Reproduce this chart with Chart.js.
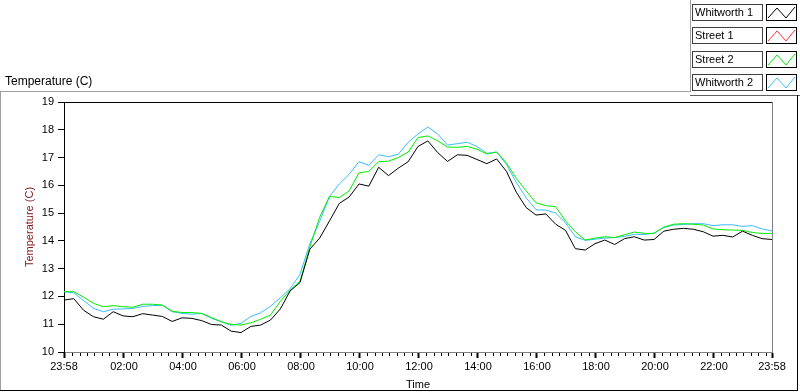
<!DOCTYPE html>
<html>
<head>
<meta charset="utf-8">
<script src="https://cdn.jsdelivr.net/npm/chart.js@4.4.0/dist/chart.umd.min.js"></script>
<style>
  html, body { margin: 0; padding: 0; background: #fff; }
  #wrap { position: relative; width: 800px; height: 392px; }
</style>
</head>
<body>
<div id="wrap"><canvas id="tempChart"></canvas></div>
<script>
// minutes after 23:58 (one sample every 20 minutes)
var minutes = [0, 20, 40, 60, 80, 100, 120, 140, 160, 180, 200, 220, 240, 260, 280, 300, 320, 340, 360, 380,
  400, 420, 440, 460, 480, 500, 520, 540, 560, 580, 600, 620, 640, 660, 680, 700, 720, 740, 760, 780,
  800, 820, 840, 860, 880, 900, 920, 940, 960, 980, 1000, 1020, 1040, 1060, 1080, 1100, 1120, 1140, 1160, 1180,
  1200, 1220, 1240, 1260, 1280, 1300, 1320, 1340, 1360, 1380, 1400, 1420, 1440];

var whitworth1 = [11.87, 11.92, 11.50, 11.27, 11.18, 11.45, 11.30, 11.27, 11.38, 11.33, 11.28, 11.10, 11.23, 11.21, 11.13, 10.99, 10.97, 10.75, 10.70, 10.92,
  10.97, 11.15, 11.55, 12.20, 12.50, 13.70, 14.10, 14.72, 15.35, 15.58, 16.05, 15.97, 16.65, 16.35, 16.62, 16.85, 17.40, 17.60, 17.18, 16.86,
  17.10, 17.08, 16.93, 16.78, 16.95, 16.50, 15.75, 15.20, 14.93, 14.97, 14.60, 14.38, 13.72, 13.67, 13.90, 14.03, 13.87, 14.08, 14.15, 14.03,
  14.05, 14.35, 14.42, 14.45, 14.42, 14.33, 14.17, 14.20, 14.14, 14.35, 14.20, 14.08, 14.05];

var street1 = [];

var street2 = [12.17, 12.17, 11.97, 11.75, 11.63, 11.67, 11.63, 11.61, 11.72, 11.72, 11.69, 11.47, 11.42, 11.42, 11.39, 11.24, 11.09, 10.99, 10.97, 11.05,
  11.18, 11.33, 11.82, 12.23, 12.55, 13.78, 14.85, 15.60, 15.56, 15.80, 16.45, 16.50, 16.85, 16.87, 17.00, 17.20, 17.72, 17.78, 17.60, 17.38,
  17.37, 17.40, 17.30, 17.13, 17.20, 16.80, 16.25, 15.80, 15.37, 15.27, 15.23, 14.72, 14.33, 14.03, 14.10, 14.15, 14.12, 14.22, 14.32, 14.27,
  14.27, 14.50, 14.60, 14.62, 14.60, 14.57, 14.43, 14.40, 14.39, 14.38, 14.30, 14.27, 14.27];

var whitworth2 = [12.17, 12.13, 11.85, 11.57, 11.45, 11.54, 11.55, 11.57, 11.64, 11.67, 11.68, 11.45, 11.39, 11.36, 11.39, 11.21, 11.09, 10.96, 11.03, 11.28,
  11.41, 11.65, 11.95, 12.28, 12.80, 13.90, 14.70, 15.60, 16.05, 16.40, 16.85, 16.72, 17.10, 17.03, 17.12, 17.55, 17.85, 18.10, 17.85, 17.45,
  17.50, 17.55, 17.40, 17.15, 17.20, 16.75, 16.10, 15.55, 15.12, 15.11, 15.00, 14.65, 14.15, 14.02, 14.06, 14.10, 14.12, 14.16, 14.24, 14.23,
  14.28, 14.48, 14.57, 14.59, 14.62, 14.62, 14.55, 14.58, 14.58, 14.52, 14.55, 14.43, 14.36];

var seriesNames = ["Whitworth 1", "Street 1", "Street 2", "Whitworth 2"];
var seriesColors = ["#000000", "#ff3333", "#00ee00", "#3cbcff"];

// x axis labels (minutes after 23:58)
var majorMinutes = [0, 122, 242, 362, 482, 602, 722, 842, 962, 1082, 1202, 1322, 1440];
var timeLabels = ["23:58", "02:00", "04:00", "06:00", "08:00", "10:00", "12:00", "14:00", "16:00", "18:00", "20:00", "22:00", "23:58"];

var yMin = 10, yMax = 19;

var FONT = "Liberation Sans";

function pts(arr) {
    return arr.map(function(v, i) { return { x: minutes[i], y: v }; });
}

var seriesData = [whitworth1, street1, street2, whitworth2];

function line(c, x1, y1, x2, y2) {
    c.beginPath();
    c.moveTo(x1, y1);
    c.lineTo(x2, y2);
    c.stroke();
}

const framePlugin = {
    id: "frame",
    beforeDraw(chart) {
        const c = chart.ctx;
        c.save();
        c.fillStyle = "#fff";
        c.fillRect(0, 0, chart.width, chart.height);
        c.lineWidth = 1;
        // panel outline
        c.strokeStyle = "#a0a0a0";
        line(c, 0, 91.5, 690, 91.5);
        line(c, 690.5, 0, 690.5, 92);
        line(c, 0.5, 91.5, 0.5, 390);
        c.strokeStyle = "#606060";
        line(c, 690, 95.5, 800, 95.5);
        c.strokeStyle = "#000";
        line(c, 0, 390.5, 798, 390.5);
        line(c, 797.5, 95, 797.5, 391);
        // caption
        c.fillStyle = "#000";
        c.font = "12px " + FONT;
        c.textBaseline = "middle";
        c.textAlign = "left";
        c.fillText("Temperature (C)", 5, 82);
        c.restore();
    },
    afterDraw(chart) {
        const c = chart.ctx;
        const a = chart.chartArea;
        const xs = chart.scales.x;
        c.save();
        c.lineWidth = 1;
        c.strokeStyle = "#000";
        line(c, a.left, Math.floor(a.top) + 0.5, a.right, Math.floor(a.top) + 0.5);
        c.strokeStyle = "#808080";
        line(c, Math.round(a.right) + 0.5, a.top, Math.round(a.right) + 0.5, a.bottom);

        // minor ticks every 15 minutes
        c.strokeStyle = "#000";
        for (var m = 17; m < 1440; m += 15) {
            if ((m - 2) % 120 === 0) continue;
            var px = Math.round(xs.getPixelForValue(m)) + 0.5;
            line(c, px, a.bottom + 1, px, a.bottom + 4);
        }

        // legend
        c.font = "11px " + FONT;
        c.textBaseline = "middle";
        c.textAlign = "left";
        seriesNames.forEach(function(name, i) {
            var top = Math.round(4 + i * 23.4);
            c.strokeStyle = "#404040";
            c.strokeRect(692.5, top + 0.5, 70, 16);
            c.strokeStyle = "#000";
            c.strokeRect(766.5, top + 0.5, 30, 16);
            c.fillStyle = "#000";
            c.fillText(name, 695, top + 9);
            c.strokeStyle = seriesColors[i];
            c.beginPath();
            c.moveTo(768, top + 14);
            c.lineTo(777, top + 4);
            c.lineTo(786, top + 14);
            c.lineTo(795, top + 3);
            c.stroke();
        });
        c.restore();
    }
};

const ctx = document.getElementById("tempChart").getContext("2d");

var tempChart = new Chart(ctx, {
    type: "line",
    data: {
        datasets: seriesNames.map(function(name, i) {
            return {
                label: name,
                data: pts(seriesData[i]),
                borderColor: seriesColors[i],
                borderWidth: 1,
                pointRadius: 0,
                tension: 0,
                fill: false
            };
        })
    },
    options: {
        responsive: true,
        maintainAspectRatio: false,
        animation: false,
        devicePixelRatio: 1,
        layout: { padding: { top: 102, right: 28, bottom: 0, left: 0 } },
        plugins: {
            legend: { display: false },
            tooltip: { enabled: false }
        },
        scales: {
            x: {
                type: "linear",
                min: 0,
                max: 1440,
                afterBuildTicks: function(scale) {
                    scale.ticks = majorMinutes.map(function(v) { return { value: v }; });
                },
                afterFit: function(scale) { scale.height = 40; },
                ticks: {
                    autoSkip: false,
                    maxRotation: 0,
                    padding: 2,
                    color: "#000",
                    font: { family: FONT, size: 11 },
                    callback: function(v) {
                        var k = majorMinutes.indexOf(v);
                        return k >= 0 ? timeLabels[k] : "";
                    }
                },
                grid: {
                    drawOnChartArea: false,
                    drawTicks: true,
                    tickLength: 6,
                    tickWidth: 2,
                    tickColor: "#000"
                },
                border: { display: true, color: "#808080", width: 1 },
                title: {
                    display: true,
                    text: "Time",
                    color: "#000",
                    font: { family: FONT, size: 11 },
                    padding: { top: 0, bottom: 0 }
                }
            },
            y: {
                min: yMin,
                max: yMax,
                afterFit: function(scale) { scale.width = 64; },
                ticks: {
                    stepSize: 1,
                    padding: 4,
                    color: "#000",
                    font: { family: FONT, size: 11 }
                },
                grid: {
                    drawOnChartArea: false,
                    drawTicks: true,
                    tickLength: 6,
                    tickColor: "#000"
                },
                border: { display: true, color: "#000", width: 1 },
                title: {
                    display: true,
                    text: "Temperature (C)",
                    color: "#7a1a1a",
                    font: { family: FONT, size: 11 },
                    padding: { top: 23, bottom: 0 }
                }
            }
        }
    },
    plugins: [framePlugin]
});
</script>
</body>
</html>
